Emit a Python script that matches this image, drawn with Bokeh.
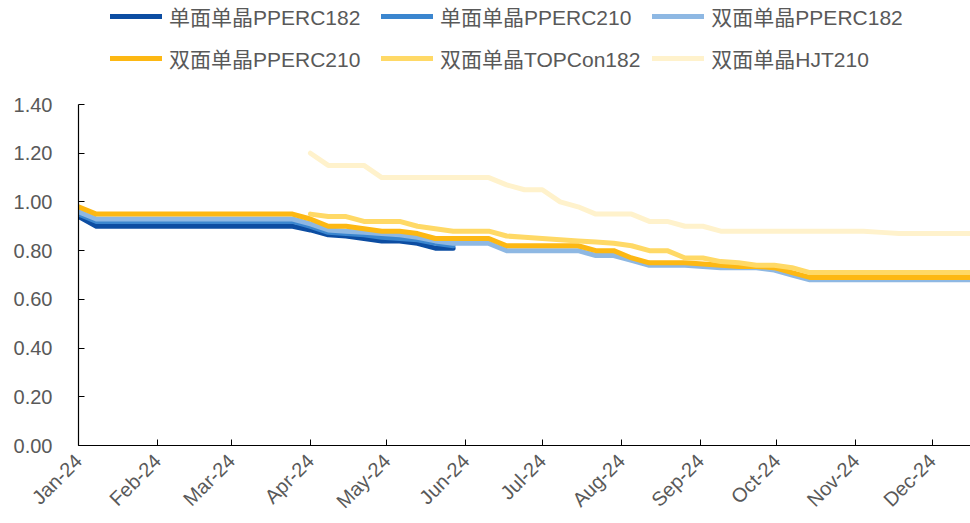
import math
import datetime as dt
from bokeh.plotting import figure
from bokeh.models import (Range1d, FixedTicker, NumeralTickFormatter, DatetimeTickFormatter,
                          Legend, LegendItem)
from bokeh.layouts import column
from bokeh.embed import file_html
from bokeh.resources import INLINE

# ---------------- data ----------------
start = dt.datetime(2024, 1, 1)
week_dates = [start + dt.timedelta(days=7 * i) for i in range(51)]

series_names = ["单面单晶PPERC182", "单面单晶PPERC210", "双面单晶PPERC182",
                "双面单晶PPERC210", "双面单晶TOPCon182", "双面单晶HJT210"]
series_colors = ["#0C4DA2", "#3B86CF", "#8EB8E3", "#FDB813", "#FFD966", "#FFF2CC"]

mono_perc182 = [0.94] + [0.90] * 12 + [0.885, 0.865, 0.86, 0.85, 0.84, 0.84, 0.83, 0.81, 0.81]
mono_perc210 = [0.95] + [0.92] * 12 + [0.90, 0.875, 0.87, 0.865, 0.855, 0.85, 0.845, 0.83, 0.82]
bi_perc182 = ([0.96] + [0.93] * 12 +
              [0.91, 0.885, 0.88, 0.875, 0.87, 0.865, 0.855, 0.84, 0.83, 0.83, 0.83,
               0.80, 0.80, 0.80, 0.80, 0.80, 0.78, 0.78, 0.76, 0.74, 0.74, 0.74, 0.735,
               0.73, 0.73, 0.73, 0.72, 0.70, 0.68] + [0.68] * 9)
bi_perc210 = ([0.98] + [0.95] * 12 +
              [0.93, 0.90, 0.90, 0.89, 0.88, 0.88, 0.87, 0.85, 0.85, 0.85, 0.85,
               0.82, 0.82, 0.82, 0.82, 0.82, 0.80, 0.80, 0.77, 0.75, 0.75, 0.75, 0.745,
               0.74, 0.735, 0.735, 0.73, 0.71, 0.69] + [0.69] * 9)
bi_topcon182 = ([0.95, 0.94, 0.94, 0.92, 0.92, 0.92, 0.90, 0.89, 0.88, 0.88, 0.88,
                 0.86, 0.855, 0.85, 0.845, 0.84, 0.835, 0.83, 0.82, 0.80, 0.80, 0.77, 0.77,
                 0.755, 0.75, 0.74, 0.74, 0.73, 0.71] + [0.71] * 9)
bi_hjt210 = ([1.20, 1.15, 1.15, 1.15, 1.10] + [1.10] * 6 +
             [1.07, 1.05, 1.05, 1.00, 0.98, 0.95, 0.95, 0.95, 0.92, 0.92, 0.90, 0.90, 0.88] +
             [0.88] * 8 + [0.875] + [0.87] * 5)

series_values = [mono_perc182, mono_perc210, bi_perc182, bi_perc210, bi_topcon182, bi_hjt210]
series_start = [0, 0, 0, 0, 13, 13]

month_ticks = [dt.datetime(2024, m, 1) for m in range(1, 13)]
y_ticks = [0.0, 0.2, 0.4, 0.6, 0.8, 1.0, 1.2, 1.4]

# ---------------- styles ----------------
FONT = "'Liberation Sans', 'Noto Sans CJK SC'"
AXFONT = "Liberation Sans"
TXT = "#595959"
LW = 5

epoch = dt.datetime(1970, 1, 1)
def ms(d):
    return (d - epoch).total_seconds() * 1000.0

# ---------------- main chart ----------------
p = figure(width=970, height=431, x_axis_type="datetime",
           x_range=Range1d(start, dt.datetime(2024, 12, 16)),
           y_range=Range1d(0, 1.4),
           toolbar_location=None, output_backend="svg",
           min_border_left=78, min_border_right=0, min_border_top=12, min_border_bottom=78)
p.outline_line_color = None
p.xgrid.visible = False
p.ygrid.visible = False

for vals, st, col in zip(series_values, series_start, series_colors):
    xs = week_dates[st:st + len(vals)]
    p.line(x=xs, y=vals, line_color=col, line_width=LW, line_join="round", line_cap="round")

xa = p.xaxis[0]
xa.ticker = FixedTicker(ticks=[ms(d) for d in month_ticks])
fmt = "%b-%y"
xa.formatter = DatetimeTickFormatter(days=fmt, months=fmt, years=fmt, hours=fmt,
                                     minutes=fmt, seconds=fmt, milliseconds=fmt,
                                     microseconds=fmt, minsec=fmt, hourmin=fmt)
xa.major_label_orientation = math.pi / 4
xa.major_label_standoff = 12

ya = p.yaxis[0]
ya.ticker = FixedTicker(ticks=y_ticks)
ya.formatter = NumeralTickFormatter(format="0.00")
ya.major_label_standoff = 26

for ax in (xa, ya):
    ax.major_tick_in = 6
    ax.major_tick_out = 0
    ax.minor_tick_line_color = None
    ax.axis_line_color = "#000000"
    ax.axis_line_width = 1.2
    ax.major_tick_line_color = "#000000"
    ax.major_label_text_font = AXFONT
    ax.major_label_text_font_size = "20px"
    ax.major_label_text_color = TXT

# ---------------- legend strip ----------------
lg = figure(width=970, height=92, toolbar_location=None, output_backend="svg",
            x_range=Range1d(0, 1), y_range=Range1d(0, 1),
            x_axis_location=None, y_axis_location=None,
            min_border_left=78, min_border_right=0, min_border_top=0, min_border_bottom=0)
lg.outline_line_color = None
lg.xgrid.visible = False
lg.ygrid.visible = False

nan = float("nan")
items = []
for name, col in zip(series_names, series_colors):
    r = lg.line(x=[nan, nan], y=[nan, nan], line_color=col, line_width=LW, line_cap="round")
    items.append(LegendItem(label=name, renderers=[r]))

legend = Legend(items=items, orientation="horizontal", ncols=3, location=(32, 19),
                glyph_width=52, glyph_height=20, label_height=20, label_width=200,
                label_standoff=7, spacing=12, padding=0, margin=0,
                border_line_color=None, background_fill_alpha=0,
                label_text_font=FONT, label_text_font_size="21px", label_text_color=TXT)
lg.add_layout(legend, "center")

layout = column(lg, p, spacing=0)
open("out.html", "w").write(file_html(layout, INLINE))
